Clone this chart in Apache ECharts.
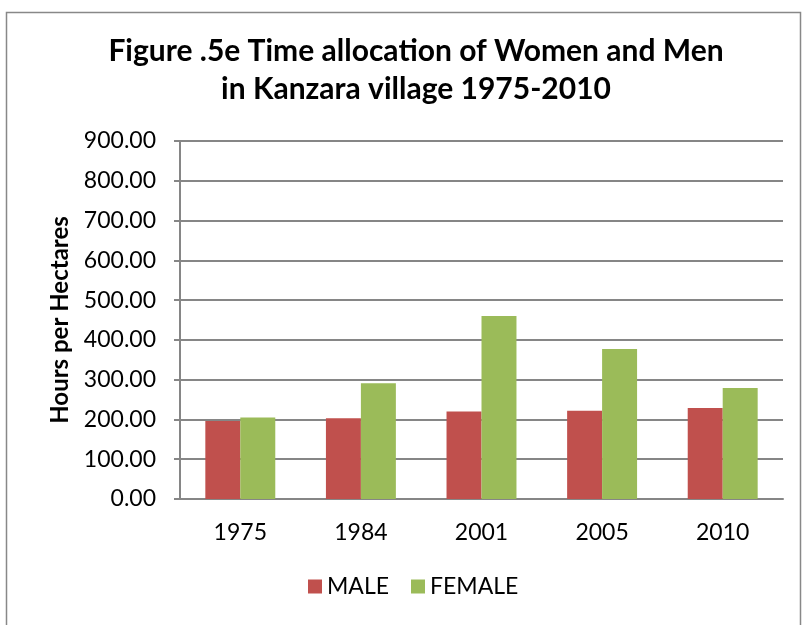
<!DOCTYPE html>
<html>
<head>
<meta charset="utf-8">
<script src="https://cdn.jsdelivr.net/npm/echarts@6/dist/echarts.min.js"></script>
<style>
  html, body { margin: 0; padding: 0; background: #fff; }
  #main { width: 805px; height: 625px; }
</style>
</head>
<body>
<div id="main"></div>
<script>
// 年份与数据
var years = ['1975', '1984', '2001', '2005', '2010']
var maleHours = [196, 203, 220, 222, 229]
var femaleHours = [205, 291, 460, 377, 279]
var yTicks = { min: 0, max: 900, step: 100 }

var font = 'Lato, "Open Sans", sans-serif'
var chart = echarts.init(document.getElementById('main'))

chart.setOption({
  backgroundColor: '#fff',
  animation: false,
  textStyle: { fontFamily: font },
  title: {
    text: 'Figure .5e Time allocation of Women and Men\nin Kanzara village 1975-2010',
    left: 411,
    top: 27,
    textAlign: 'center',
    textStyle: { fontSize: 30, fontWeight: 'bold', color: '#000', lineHeight: 38, fontFamily: font }
  },
  // 外边框
  graphic: [{
    type: 'rect',
    shape: { x: 6.5, y: 12.5, width: 794, height: 630 },
    style: { fill: 'none', stroke: '#888', lineWidth: 1.5 },
    silent: true
  }],
  legend: {
    bottom: 22,
    left: 303,
    itemWidth: 14,
    itemHeight: 14,
    itemGap: 22,
    icon: 'rect',
    textStyle: { fontSize: 23, color: '#000', fontFamily: font },
    data: ['MALE', 'FEMALE']
  },
  grid: { left: 180, right: 22, top: 141, bottom: 126, containLabel: false },
  xAxis: {
    type: 'category',
    data: years,
    axisLine: { lineStyle: { color: '#868686', width: 2 } },
    axisTick: { show: false },
    axisLabel: { color: '#000', fontSize: 23, margin: 22, fontFamily: font }
  },
  yAxis: {
    type: 'value',
    min: yTicks.min,
    max: yTicks.max,
    interval: yTicks.step,
    name: 'Hours per Hectares',
    nameLocation: 'middle',
    nameGap: 108,
    nameRotate: 90,
    nameTextStyle: { fontSize: 24, fontWeight: 'bold', color: '#000', fontFamily: font },
    axisLine: { show: true, lineStyle: { color: '#868686', width: 2 } },
    axisTick: { show: true, length: 6, lineStyle: { color: '#868686', width: 2 } },
    splitLine: { lineStyle: { color: '#868686', width: 2 } },
    axisLabel: {
      color: '#000', fontSize: 23, margin: 24, fontFamily: font,
      formatter: function (v) { return v.toFixed(2) }
    }
  },
  series: [
    {
      name: 'MALE', type: 'bar', data: maleHours,
      barGap: '0%', barCategoryGap: '42%',
      itemStyle: { color: '#C0504D' }
    },
    {
      name: 'FEMALE', type: 'bar', data: femaleHours,
      barGap: '0%', barCategoryGap: '42%',
      itemStyle: { color: '#9BBB59' }
    }
  ]
})
</script>
</body>
</html>
